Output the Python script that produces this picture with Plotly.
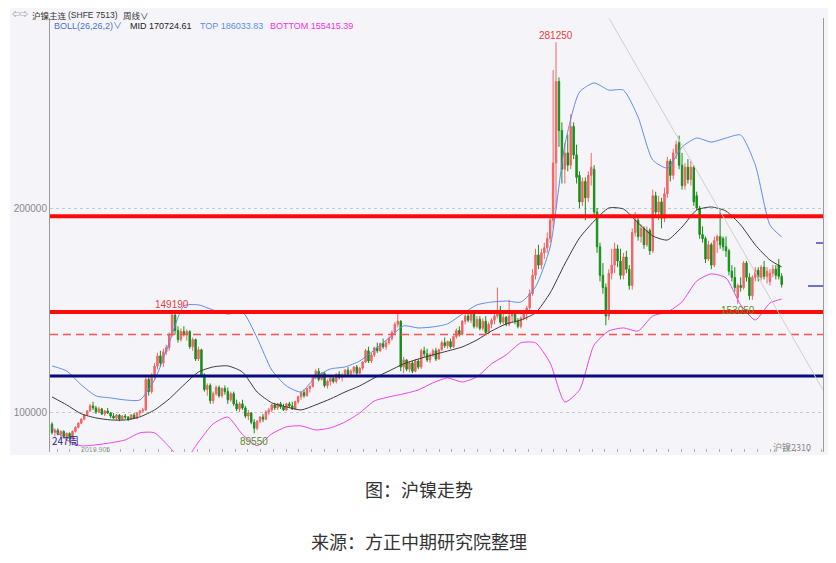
import pandas as pd
import plotly.graph_objects as go

# ---------------- data (prices in thousand yuan/ton) ----------------
start_week = "2018-11-19"

opens = [94, 90, 91, 89, 90.5, 88, 89.5, 87, 90.5, 92.5,
         94.5, 96.5, 98.5, 100.5, 103, 102, 100, 101.5, 99, 100.5,
         99.5, 98, 97, 98.5, 96.5, 98, 97.5, 96.5, 98.5, 97,
         99.5, 100.5, 101, 116, 110, 118, 122.5, 127.5, 124, 129.5,
         131.5, 138, 147.5, 140, 135.5, 139.5, 138, 139.5, 132, 135.5,
         126, 130.5, 118, 111, 113, 105.5, 109, 112, 108, 111.5,
         110, 106, 109, 104, 101.5, 104, 102, 98, 99.5, 95,
         92, 95.5, 97.5, 96.5, 100, 101, 103.5, 102, 104, 102.5,
         101, 104, 103, 101.5, 105, 107.5, 109.5, 108, 111.5, 112.5,
         117, 120, 116, 119, 113, 115, 116.5, 115, 118.5, 117,
         118, 120.5, 118.5, 120, 122, 119, 121.5, 124.5, 130, 125,
         128, 131.5, 130, 133.5, 132, 134, 136, 139, 143, 144.5,
         122, 125.5, 121, 124, 120, 125, 122, 130, 128.5, 125.5,
         128, 130, 126, 130.5, 134, 132.5, 134.5, 132, 137, 140,
         138, 144.5, 147, 145, 148, 142, 145.5, 141, 144.5, 139,
         143, 145, 147, 150, 144, 146.5, 143, 147, 148, 144.5,
         142, 146, 149, 151, 158, 167, 177, 172, 178, 180.5,
         185, 194, 222, 262, 238, 219, 227, 221, 240, 226,
         216, 203, 213, 205, 216, 219, 198, 181, 167, 161,
         147, 168, 172, 180, 174, 167, 176, 170, 162, 188,
         194, 186, 190, 182, 189, 179, 206, 198, 203, 195,
         207, 223, 216, 227, 232, 221, 211, 220, 214, 220,
         206, 200, 187, 185, 175, 182, 172, 184, 186, 185,
         181, 179, 169, 166, 156, 162, 161, 173, 166, 157,
         166, 169.5, 166, 171, 166.5, 164, 168, 170, 172, 166.5]

highs = [95, 92, 92, 91, 91, 90, 90, 91, 93, 95,
         97, 99, 101, 104, 105, 103, 102.5, 102, 101, 102,
         100, 99.5, 99, 99, 98.5, 99, 98, 99, 99.5, 100,
         101, 102, 118, 117, 119, 124, 129, 130, 131, 133,
         139, 149.19, 148, 142, 141, 142, 140.5, 140, 136.5, 136,
         132, 131, 119, 114, 114, 110, 113, 113, 112, 113,
         112, 110, 110, 106, 105, 106, 103, 101, 100, 96.5,
         96, 98, 99, 101, 102, 104, 104.5, 104.5, 105, 104,
         104.5, 105, 105, 105.5, 108, 110, 111, 112, 113, 118,
         121, 121.5, 119.5, 119.5, 116, 117, 118, 119, 120, 119,
         121, 122, 121, 122.5, 123, 122, 125, 131, 132, 129,
         132, 134, 134, 136, 135, 137, 140, 144, 149, 145,
         127, 126, 125, 125, 126, 126, 131, 132, 131, 129,
         131, 131.5, 131, 135, 136.5, 135, 136, 137.5, 141, 142,
         145, 148, 150, 149, 149, 147, 147, 146, 147, 144,
         146, 148, 161, 152, 148, 147, 155, 149, 149, 146,
         147, 150, 152, 160, 170, 180, 182, 180, 183, 188,
         196, 267.6, 281.25, 264, 242, 232, 236, 246, 242, 231,
         218, 215, 215, 218, 227, 221, 200, 183, 173, 163,
         170, 180, 183, 182, 180, 178, 179, 172, 190, 198,
         196, 192, 191, 191, 190, 209, 208, 206, 205, 210,
         225, 224, 229, 233, 235.5, 227, 222, 224, 223, 221,
         208, 201, 191, 186, 184, 183, 186, 187, 199, 186,
         186, 180, 172, 171, 163, 166, 174, 174, 168, 167,
         171, 171, 172, 174, 171, 170, 172, 172, 175, 168]

lows = [89, 88, 88.5, 87.5, 87, 86, 85, 86.5, 90, 92,
        94, 96, 98, 100, 101, 99, 99.5, 98.5, 98, 99,
        97, 96.5, 96, 95.5, 96, 96.5, 95.5, 96, 96.5, 96.5,
        98, 99.5, 100.5, 108, 109, 116, 121, 122, 122, 128,
        130, 137, 138, 134, 134.5, 137, 135, 131, 130, 125,
        125, 117, 110, 108, 104, 104, 108, 107, 107, 108.5,
        104, 105, 103, 100.5, 100, 101, 97, 96, 94, 89.55,
        91, 94.5, 95, 96, 98.5, 100, 101, 101, 101.5, 100.5,
        100.5, 102, 101, 101, 104, 106, 107, 107.5, 109.5, 112,
        116, 115, 115.5, 112, 111.5, 113, 114, 114, 116, 115,
        117, 117.5, 117.5, 118.5, 118, 118.5, 120.5, 124, 124, 124,
        127, 129, 129.5, 131, 130.5, 133, 135, 138, 141.5, 120,
        119, 120, 119.5, 119, 119.5, 121, 121, 127, 124.5, 124,
        127, 125, 125.5, 130, 131.5, 131, 131, 131.5, 136, 137,
        137.5, 143, 144, 143.5, 141, 141, 140, 140, 138, 138,
        141, 143, 146, 143, 143, 142, 142, 144, 143, 141,
        141, 145, 145, 150, 157, 165, 170, 170, 175, 178,
        183, 190, 200, 230, 212, 212, 218, 219, 224, 212,
        200, 201, 194, 203, 211, 196, 178, 164, 158, 142.5,
        145, 165, 168, 171, 165, 165, 168, 160, 160, 186,
        184, 183, 180, 181, 177, 178, 196, 194, 190, 193,
        205, 213, 214, 224, 219, 209, 209, 212, 211, 201,
        199, 185, 183, 173, 174, 170, 171, 178, 180, 179,
        176, 167, 164, 159, 153.05, 159, 160, 164, 155, 155,
        164, 164, 164.5, 165, 163, 162, 166, 165, 165, 161]

closes = [90, 91, 89, 90.5, 88, 89.5, 87, 90.5, 92.5, 94.5,
          96.5, 98.5, 100.5, 103, 102, 100, 101.5, 99, 100.5, 99.5,
          98, 97, 98.5, 96.5, 98, 97.5, 96.5, 98.5, 97, 99.5,
          100.5, 101, 116, 110, 118, 122.5, 127.5, 124, 129.5, 131.5,
          138, 147.5, 140, 135.5, 139.5, 138, 139.5, 132, 135.5, 126,
          130.5, 118, 111, 113, 105.5, 109, 112, 108, 111.5, 110,
          106, 109, 104, 101.5, 104, 102, 98, 99.5, 95, 92,
          95.5, 97.5, 96.5, 100, 101, 103.5, 102, 104, 102.5, 101,
          104, 103, 101.5, 105, 107.5, 109.5, 108, 111.5, 112.5, 117,
          120, 116, 119, 113, 115, 116.5, 115, 118.5, 117, 118,
          120.5, 118.5, 120, 122, 119, 121.5, 124.5, 130, 125, 128,
          131.5, 130, 133.5, 132, 134, 136, 139, 143, 144.5, 122,
          125.5, 121, 124, 120, 125, 122, 130, 128.5, 125.5, 128,
          130, 126, 130.5, 134, 132.5, 134.5, 132, 137, 140, 138,
          144.5, 147, 145, 148, 142, 145.5, 141, 144.5, 139, 143,
          145, 147, 150, 144, 146.5, 143, 147, 148, 144.5, 142,
          146, 149, 151, 158, 167, 177, 172, 178, 180.5, 185,
          194, 222, 262, 238, 219, 227, 221, 240, 226, 215,
          203, 213, 205, 216, 220, 198, 181, 167, 161, 147,
          168, 172, 180, 174, 167, 176, 170, 162, 188, 194,
          186, 190, 182, 189, 179, 206, 198, 203, 195, 207,
          223, 216, 227, 231, 221, 211, 220, 214, 220, 203,
          200, 187, 185, 175, 182, 172, 184, 186, 182, 181,
          179, 169, 166, 161, 162, 161, 173, 166, 157, 166,
          169.5, 166, 171, 166.5, 169, 168, 170, 167, 166.5, 162.5]

boll_idx = list(range(0, 250, 5)) + [249]
boll_mid = [107.4, 103.5, 99.1, 97.1, 96.1, 96.1, 97.6, 101.0, 106.4, 113.3,
            119.6, 122.1, 122.6, 119.6, 109.8, 104.5, 102.5, 101.0, 103.5, 106.4,
            109.8, 112.8, 116.7, 120.1, 123.6, 126.0, 128.0, 129.9, 131.9, 135.3,
            139.7, 143.2, 145.1, 148.6, 158.4, 172.6, 185.3, 193.6, 200.0, 199.5,
            192.7, 186.3, 184.3, 190.7, 199.0, 200.5, 198.5, 191.7, 181.9, 174.5,
            171.1]
boll_top = [122.6, 120.1, 113.3, 107.9, 106.9, 105.9, 105.9, 115.7, 133.9, 152.0,
            152.5, 150.0, 148.0, 149.0, 136.3, 120.6, 112.8, 109.8, 117.2, 121.1,
            122.1, 125.0, 130.4, 136.3, 142.2, 141.2, 141.7, 143.2, 148.0, 152.5,
            153.9, 154.4, 153.9, 161.3, 180.9, 230.9, 256.8, 261.3, 257.8, 257.8,
            244.6, 223.5, 219.6, 229.9, 234.3, 232.3, 234.3, 235.8, 221.1, 191.7,
            185.8]
boll_bot = [92.2, 86.3, 83.4, 83.9, 84.9, 86.3, 89.8, 89.8, 82.9, 76.0,
            85.3, 94.2, 97.5, 89.0, 83.5, 89.3, 92.7, 93.2, 91.2, 92.2,
            95.1, 99.5, 105.4, 107.4, 108.9, 110.8, 114.3, 116.7, 114.7, 117.2,
            123.6, 128.0, 133.9, 133.9, 124.0, 104.9, 110.8, 132.9, 139.7, 141.2,
            139.7, 147.1, 149.0, 154.0, 164.2, 167.7, 165.7, 152.5, 145.1, 153.4,
            155.4]

support_lines = [196000, 149000]      # thick red
dashed_line = 138000                  # dashed red
navy_line = 117700                    # dark blue

boll_header = ["MID 170724.61", "TOP 186033.83", "BOTTOM 155415.39"]

# ---------------- figure ----------------
K = 1000.0
dates = pd.date_range(start_week, periods=len(closes), freq="W-MON")
d0 = pd.Timestamp(start_week)


def wk(n):
    return d0 + pd.Timedelta(weeks=n)


# the page adds an 8px body margin, so the figure is laid out 8px up/left
W, H = 828, 555
ML, MR, MT, MB = 42, 13, 10, 111
PW, PH = W - ML - MR, H - MT - MB   # 773 x 434


def px(x):          # x in screenshot pixels -> paper
    return (x - 50) / PW


def py(y):          # y in screenshot pixels -> paper
    return (452 - y) / PH


RED = "#f26464"
GREEN = "#178f17"

fig = go.Figure()
fig.add_trace(go.Candlestick(
    x=dates,
    open=[v * K for v in opens], high=[v * K for v in highs],
    low=[v * K for v in lows], close=[v * K for v in closes],
    increasing=dict(line=dict(color=RED, width=1), fillcolor=RED),
    decreasing=dict(line=dict(color=GREEN, width=1), fillcolor=GREEN),
    whiskerwidth=0, showlegend=False, hoverinfo="skip"))

bx = [dates[i] for i in boll_idx]
for vals, col in [(boll_top, "#5b8cee"), (boll_bot, "#f040f0"), (boll_mid, "#3a3a3a")]:
    fig.add_trace(go.Scatter(x=bx, y=[v * K for v in vals], mode="lines",
                             line=dict(color=col, width=1, shape="spline", smoothing=0.6),
                             showlegend=False, hoverinfo="skip"))

shapes = []
for v in support_lines:
    shapes.append(dict(type="line", xref="paper", x0=0, x1=1, yref="y", y0=v, y1=v,
                       line=dict(color="#ff0a0a", width=4)))
shapes.append(dict(type="line", xref="paper", x0=0, x1=1, yref="y", y0=dashed_line, y1=dashed_line,
                   line=dict(color="#ff5050", width=1.3, dash="8px,5px")))
shapes.append(dict(type="line", xref="paper", x0=0, x1=1, yref="y", y0=navy_line, y1=navy_line,
                   line=dict(color="#0a0a80", width=3)))
# trend line
shapes.append(dict(type="line", xref="x", yref="y", x0=wk(190.1), y0=293000, x1=wk(263.1), y1=110800,
                   line=dict(color="#cfcfcf", width=1)))
# light chart background outside the plot area (header / axis)
shapes.append(dict(type="rect", xref="paper", yref="paper", x0=px(10), x1=px(836), y0=py(455), y1=py(0),
                   fillcolor="#f5f5f9", line=dict(width=0), layer="below"))
# right edge markers
shapes.append(dict(type="line", xref="paper", yref="paper", x0=px(816), x1=px(823), y0=py(243), y1=py(243),
                   line=dict(color="#6f6fd0", width=2)))
shapes.append(dict(type="line", xref="paper", yref="paper", x0=px(808), x1=px(823), y0=py(286), y1=py(286),
                   line=dict(color="#6f6fd0", width=2)))

ann = []
# extreme labels
for i, field, col, shift in [(172, "h", "#e83c3c", 7), (41, "h", "#e83c3c", 7),
                             (69, "l", "#5e8a2a", -8), (234, "l", "#5e8a2a", -7)]:
    val = highs[i] if field == "h" else lows[i]
    ann.append(dict(x=dates[i], y=val * K, xref="x", yref="y", text=f"{int(round(val * K))}",
                    showarrow=False, yshift=shift, font=dict(size=10, color=col, family="Liberation Sans")))


def label(x, y, text, size, color, anchor="left", family="Liberation Sans, Noto Sans CJK SC"):
    ann.append(dict(x=px(x), y=py(y), xref="paper", yref="paper", xanchor=anchor, yanchor="middle",
                    text=text, showarrow=False, borderpad=0,
                    font=dict(size=size, color=color, family=family)))


label(11, 14.5, "⇦⇨", 8, "#555")
label(31, 14.5, "沪镍主连", 8.5, "#333", family="Noto Sans CJK SC")
label(67, 14.5, "(SHFE 7513)", 8.5, "#333")
label(122, 14.5, "周线∨", 8.5, "#333", family="Noto Sans CJK SC")
label(53, 26, "BOLL(26,26,2)∨", 9, "#4a6fd8")
for txt, xx, col in zip(boll_header, [129, 199, 269], ["#222222", "#5b8cee", "#f030f0"]):
    label(xx, 26, txt, 9, col)

label(51, 440, "247周", 10, "#22228a", family="Noto Sans CJK SC")
label(80, 449, "2019.905", 7, "#8a9a8a")
label(812, 447, "沪镍2310", 9, "#888", anchor="right", family="Noto Sans CJK SC")

label(419, 489, "图：沪镍走势", 18, "#333", anchor="center", family="Noto Sans CJK SC")
label(419, 541, "来源：方正中期研究院整理", 18, "#333", anchor="center", family="Noto Sans CJK SC")

fig.update_layout(
    width=W, height=H, margin=dict(l=ML, r=MR, t=MT, b=MB),
    paper_bgcolor="white", plot_bgcolor="#f5f5f9",
    shapes=shapes, annotations=ann, showlegend=False,
    xaxis=dict(type="date", range=[wk(-0.68), wk(263.1)], rangeslider=dict(visible=False),
               showticklabels=False, showgrid=False, zeroline=False, showline=False,
               ticks="inside", ticklen=3, tickcolor="#b0b0b0", dtick="M1", tick0="2018-12-01"),
    yaxis=dict(range=[80390, 293140], tickvals=[100000, 200000], ticktext=["100000", "200000"],
               showgrid=True, gridcolor="#c8c8c8", griddash="dot", gridwidth=1, zeroline=False,
               showline=True, linecolor="#9a9a9a", linewidth=1, mirror=True, ticks="",
               automargin=False,
               tickfont=dict(size=10, color="#888", family="Liberation Sans")),
)

fig.write_html("out.html")
